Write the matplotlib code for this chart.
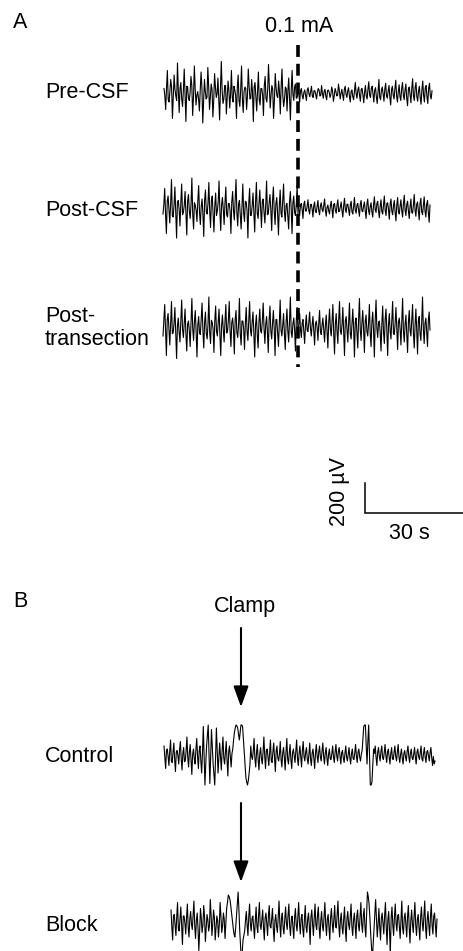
import numpy as np
import matplotlib
matplotlib.use("Agg")
import matplotlib.pyplot as plt

plt.rcParams['font.family'] = ['Liberation Sans', 'DejaVu Sans']

# ---------------- data (µV samples read from the recording) ----------------
# each trace segment = large excursions ("spikes") and the dense core between them
pre_csf_before = [
    30, -110, 150, -60, 90, -170, 120, -20, 200, -130, 70, -90, 160, -190, 40, -50, 110, -150, 180, -80,
    10, -120, 140, -200, 90, -40, 170, -110, 60, -160, 130, -30, 100, -180, 210, -70, 50, -140, 80, -100,
    150, -60, 20, -170, 120, -90, 180, -130, 40, -110, 160, -40, 90, -190, 70, -120, 140, -80, 30, -150,
    110, -60, 190, -100, 50, -170, 130, -20, 80, -140, 160, -90, 40, -120, 100, -180, 150, -50, 60, -30]
pre_csf_before_core = [
    -20, 35, -45, 10, 40, -30, 25, -50, 15, 30, -40, 20, -10, 45, -35, 5, 50, -25, 30, -15,
    -40, 20, 35, -45, 10, -30, 45, -20, 25, -50, 40, -5, -35, 30, 15, -40, 50, -25, 20, -10,
    -30, 45, -15, 35, -50, 25, -40, 10, 30, -20, 45, -35, 5, 40, -25, 15, -45, 30, -10, 50,
    -35, 20, 40, -15, 25, -50, 35, -30, 10, 45, -20, -40, 30, 15, -45, 25, -10, 40, -35, 20]
pre_csf_after = [
    40, -60, 30, -40, 20, -50, 35, -25, 45, -30, 15, -40, 30, -20, 50, -35, 25, -45, 20, -30,
    40, -55, 30, -20, 60, -40, 25, -50, 45, -30, 35, -60, 20, -45, 70, -35, 40, -55, 30, -65,
    50, -40, 75, -30, 45, -60, 35, -70, 90, -45, 40, -55, 65, -35, 50, -80, 45, -40, 85, -60,
    55, -50, 70, -45, 60, -85, 40, -65, 95, -50, 70, -55, 45, -75, 80, -60, 50, -70, 65, -40]
pre_csf_after_core = [
    -10, 15, -20, 5, -15, 20, -5, 10, -20, 15, -10, 5, 20, -15, -5, 10, -20, 15, 5, -10,
    15, -20, 10, -15, 20, -5, -15, 25, -10, 15, -20, 10, -25, 15, -5, 20, -15, 25, -10, 5,
    -20, 25, -15, 30, -10, 20, -25, 15, -30, 20, -10, 25, -20, 15, -30, 25, -15, 30, -20, 10,
    -25, 30, -15, 20, -35, 25, -10, 30, -20, 35, -25, 15, -30, 20, -15, 35, -25, 30, -20, 15]

post_csf_before = [
    -40, 130, -170, 80, -100, 190, -60, 140, -200, 50, -120, 160, -30, 110, -180, 90, -70, 200, -140, 20,
    -90, 150, -110, 60, -190, 120, -40, 170, -130, 80, -160, 100, -20, 180, -150, 70, -110, 140, -60, 30,
    -170, 110, -80, 190, -120, 50, -140, 160, -90, 40, -200, 130, -50, 100, -160, 170, -70, 120, -130, 60,
    -100, 180, -40, 90, -150, 140, -110, 70, -180, 120, -60, 160, -90, 30, -140, 110, -170, 80, -50, 150]
post_csf_before_core = [
    25, -40, 45, -15, 30, -50, 20, -35, 40, -10, 35, -45, 15, -30, 50, -20, 25, -40, 35, -15,
    45, -30, 10, -40, 50, -25, 30, -20, 45, -35, 15, -50, 40, -25, 20, -10, 35, -45, 30, -20,
    40, -15, 50, -30, 25, -40, 10, -35, 45, -20, 30, -50, 15, -25, 40, -35, 20, -10, 45, -30,
    25, -45, 35, -15, 50, -20, 30, -40, 15, -35, 45, -25, 20, -50, 40, -10, 35, -30, 25, -40]
post_csf_after = [
    60, -50, 30, -70, 45, -20, 55, -40, 25, -60, 40, -30, 50, -45, 35, -25, 60, -55, 20, -40,
    45, -65, 30, -35, 55, -20, 40, -60, 65, -30, 25, -50, 45, -40, 70, -35, 30, -55, 50, -25,
    40, -70, 60, -45, 35, -60, 75, -30, 45, -65, 55, -40, 80, -50, 35, -75, 60, -45, 50, -85,
    70, -40, 55, -60, 85, -50, 45, -70, 60, -35, 90, -55, 40, -80, 65, -45, 75, -60, 50, -95]
post_csf_after_core = [
    -15, 20, -10, 25, -20, 10, -15, 20, -5, 15, -25, 10, -20, 15, -10, 20, -15, 5, -20, 15,
    -10, 25, -15, 20, -25, 10, -20, 15, -10, 25, -15, 20, -25, 10, -15, 20, -10, 25, -20, 15,
    -20, 25, -15, 10, -25, 20, -10, 30, -20, 15, -25, 20, -15, 30, -10, 25, -20, 15, -30, 20,
    -25, 15, -20, 30, -15, 25, -20, 10, -30, 20, -15, 25, -20, 30, -25, 15, -20, 25, -30, 20]

post_trans_before = [
    -60, 150, -190, 90, -120, 170, -40, 130, -210, 60, -100, 180, -70, 120, -160, 40, -130, 190, -90, 110,
    -200, 70, -50, 160, -140, 100, -80, 200, -110, 30, -170, 140, -60, 120, -190, 80, -100, 150, -30, 170,
    -130, 60, -180, 110, -70, 190, -120, 40, -150, 130, -90, 170, -60, 100, -200, 80, -140, 120, -40, 160,
    -110, 70, -170, 140, -80, 110, -190, 50, -130, 180, -60, 90, -150, 120, -100, 200, -70, 60, -160, 130]
post_trans_before_core = [
    40, -30, 50, -20, 35, -45, 25, -40, 10, -35, 45, -15, 30, -50, 20, -25, 40, -10, 35, -30,
    15, -40, 50, -25, 30, -45, 20, -35, 45, -15, 40, -30, 25, -50, 10, -20, 35, -40, 45, -25,
    30, -15, 50, -35, 20, -45, 40, -10, 25, -30, 45, -20, 35, -40, 15, -50, 30, -25, 40, -10,
    20, -35, 45, -30, 25, -15, 50, -40, 35, -20, 10, -45, 30, -25, 40, -35, 20, -15, 45, -30]
post_trans_after = [
    -40, 90, -70, 50, -110, 80, -30, 100, -60, 70, -120, 40, -90, 110, -50, 60, -100, 80, -140, 120,
    -60, 150, -180, 90, -110, 170, -50, 130, -190, 70, -100, 160, -80, 120, -200, 60, -140, 190, -90, 110,
    -170, 80, -60, 150, -130, 100, -200, 180, -70, 40, -160, 140, -110, 120, -190, 90, -80, 170, -50, 130,
    -150, 60, -120, 190, -100, 80, -170, 110, -60, 150, -140, 120, -180, 70, -90, 200, -110, 60, -130, 100]
post_trans_after_core = [
    20, -15, 25, -30, 10, -20, 30, -10, 15, -25, 20, -5, 25, -30, 15, -20, 10, -25, 30, -15,
    35, -40, 20, -30, 45, -25, 15, -35, 40, -20, 30, -45, 25, -10, 35, -40, 50, -20, 30, -15,
    40, -30, 25, -45, 35, -20, 45, -10, 30, -40, 20, -35, 50, -25, 15, -30, 40, -45, 25, -20,
    35, -15, 45, -30, 20, -40, 30, -25, 50, -35, 10, -20, 40, -45, 30, -15, 25, -35, 45, -20]

control = [
    60, -90, 40, -70, 100, -50, 80, -110, 30, -60, 90, -100, 50, -40, 120, -80, 70, -130, 40, -60, 110, -90, 60, -120,
    190, -200, 60, 200, -190, 170, -60, -200, 180, -120,
    80, -100, 120, -60, 90, -140, 60, -80,
    40, 150, 200, 180, 100, 200, 190, 20, -150, -200, -120,
    60, -30, 110, -80, 70, -100, 50, -60, 120, -90, 40, -70, 100, -50, 80, -110, 60, -40, 90, -80,
    50, -100, 110, -60, 70, -90, 40, -50, 100, -70, 60, -80, 90, -40, 50, -60, 80, -70, 40, -90,
    70, -50, 60, -40, 80, -60, 50, -70, 40, -30, 60, -50, 70, -40, 50, -60, 30, -50, 60, -40,
    50, -60, 40, -30, 70, -50, 40, -40,
    30, 190, 200, -60, 200, -200, -180, 40,
    60, -70, 50, -40, 60, -30, 70, -50, 40, -60, 50, -30, 60, -40, 70, -50, 40, -60, 30, -40,
    60, -50, 40, -30, 50, -60, 40, -30, 60, -40, 50, -50, 30, -40, 50, -70, -60]
control_core = [
    -20, 30, -10, 25, -40, 15, -30, 20, -5, 35, -25, 10, -45, 30, -15, 20, -35, 5, -25, 40, -10, 30, -40, 15,
    0, -60, 130, 10, -10, 60, -130, -10, 30, -20,
    -10, 30, -20, 15, -35, 20, -15, 10,
    100, 180, 195, 140, 150, 200, 110, -70, -180, -170, -60,
    -10, 25, -20, 15, -30, 10, -25, 20, -5, 30, -15, 10, -35, 20, -10, 25, -20, 5, -30, 15,
    -15, 20, -25, 10, -30, 15, -5, 25, -20, 10, -15, 30, -10, 20, -25, 5, -30, 15, -20, 10,
    -5, 20, -15, 25, -10, 15, -20, 5, -25, 10, -15, 20, -5, 25, -10, 15, -20, 10, -15, 5,
    -20, 10, -25, 15, -10, 20, -15, 5,
    110, 200, 60, 90, 0, -200, -70, 10,
    -15, 20, -10, 25, -20, 15, -5, 20, -15, 10, -25, 15, -10, 20, -15, 5, -20, 10, -15, 25,
    -10, 15, -20, 5, -15, 20, -10, 15, -25, 10, -15, 20, -5, 15, -20, -10, -40]

block = [
    80, -120, 50, -90, 130, -60, 100, -150, 40, -80, 120, -100, 70, -50, 140, -110, 60, -190, 90, -70,
    110, -130, 50, -60, 150, -90, 80, -120, 40, -100, 130, -70, 60, -110, 90,
    180, 150, 60, -40, -100, 40, 200, -60, -250, -120, -60,
    70, -90, 120, -60, 40, -110, 100, -70, 130, -50, 80, -120, 60, -90, 110, -40, 90, -130, 50, -70,
    140, -100, 60, -80, 100, -50, 120, -90, 40, -110, 90, -60, 130, -80, 50, -100, 110, -70, 60, -150,
    80, -90, 120, -50, 100, -110, 70, -60, 130, -90, 50, -120, 90, -70, 110, -40, 140, -100, 60, -80,
    100, -130, 70, -50, 120, -90, 60, -110, 80, -60, 130, -70, 90, -100,
    200, 120, -80, -250, -60, 150, -100,
    90, -120, 60, -80, 130, -150, 70, -200, 100, -90, 120, -60, 50, -110, 140, -80, 60, -100, 110, -140,
    80, -70, 130, -90, 50, -120, 100, -60, 140, -110, 70, -90, 120, -80, 60, -100]
block_core = [
    -30, 40, -20, 35, -45, 15, -25, 40, -10, 30, -35, 20, -15, 45, -30, 10, -40, -60, 25, -20,
    35, -40, 15, -25, 45, -15, 30, -35, 10, -20, 40, -30, 20, -15, 130,
    170, 110, 10, -80, -40, 130, 80, -170, -200, -90, 10,
    -20, 35, -15, 25, -40, 10, -30, 45, -20, 15, -35, 25, -10, 40, -25, 20, -45, 10, -30, 35,
    -15, 25, -40, 20, -10, 45, -30, 15, -35, 30, -20, 40, -10, 25, -45, 15, -30, 20, -25, 35,
    -15, 30, -20, 45, -35, 10, -25, 40, -15, 20, -40, 30, -10, 25, -30, 45, -20, 15, -35, 20,
    -45, 25, -15, 35, -30, 10, -20, 40, -25, 30, -15, 45, -35, 60,
    170, 30, -170, -150, 50, 20, -20,
    -30, 25, -15, 40, -35, 20, -60, 30, -20, 35, -10, 45, -25, 15, -40, 30, -20, 35, -30, 10,
    -15, 40, -25, 20, -35, 30, -10, 45, -30, 15, -20, 35, -25, 40, -15, 20]

panel_a_labels = ["Pre-CSF", "Post-CSF", "Post-\ntransection"]
panel_b_labels = ["Control", "Block"]
stim_label = "0.1 mA"
clamp_label = "Clamp"
scale_time_s = 30
scale_volt_uv = 200

# ---------------- layout ----------------
W, H = 463, 951
PX_PER_S = 98 / 30.0
PX_PER_UV = 30 / 200.0
X0 = 164  # pixel of t = 0

def tx(px):
    return (px - X0) / PX_PER_S

def ty(py):
    return -py / PX_PER_UV

fig = plt.figure(figsize=(W / 100, H / 100), dpi=100)
ax = fig.add_axes([0, 0, 1, 1])
ax.set_xlim(tx(0), tx(W))
ax.set_ylim(ty(H), ty(0))
ax.axis('off')

FS = 15.5
LW = 0.8

def merge(spikes, core):
    out = np.empty(len(spikes) + len(core))
    out[0::2] = spikes
    out[1::2] = core
    return out

def draw_trace(segments, y_center):
    for (t0, t1, vals) in segments:
        t = np.linspace(t0, t1, len(vals))
        ax.plot(t, ty(y_center) + np.asarray(vals, float), color='k', lw=LW)

t_stim = tx(298)
# Panel A
draw_trace([(tx(164), t_stim, merge(pre_csf_before, pre_csf_before_core)),
            (t_stim, tx(432), merge(pre_csf_after, pre_csf_after_core))], 93)
draw_trace([(tx(163), t_stim, merge(post_csf_before, post_csf_before_core)),
            (t_stim, tx(430), merge(post_csf_after, post_csf_after_core))], 208)
draw_trace([(tx(163), t_stim, merge(post_trans_before, post_trans_before_core)),
            (t_stim, tx(430), merge(post_trans_after, post_trans_after_core))], 327)

ax.plot([t_stim, t_stim], [ty(45), ty(367)], color='k', lw=2.6, dashes=(3.3, 1.9),
        solid_capstyle='butt', dash_capstyle='butt')

ax.text(tx(13), ty(22), "A", fontsize=FS, ha='left', va='center')
ax.text(tx(299), ty(27), stim_label, fontsize=FS, ha='center', va='center')
ax.text(tx(45), ty(93), panel_a_labels[0], fontsize=FS, ha='left', va='center')
ax.text(tx(45), ty(211), panel_a_labels[1], fontsize=FS, ha='left', va='center')
ax.text(tx(45), ty(328), panel_a_labels[2], fontsize=FS, ha='left', va='center', linespacing=1.18)

# scale bar
sb_x = tx(365)
sb_y = ty(513)
ax.plot([sb_x, sb_x, sb_x + scale_time_s], [sb_y + scale_volt_uv, sb_y, sb_y], color='k', lw=1.1,
        solid_joinstyle='miter')
ax.text(tx(339), ty(492), f"{scale_volt_uv} µV", fontsize=FS, rotation=90, ha='center', va='center')
ax.text(sb_x + scale_time_s / 2 - 1.5, ty(533), f"{scale_time_s} s", fontsize=FS, ha='center', va='center')

# Panel B
ax.text(tx(13), ty(601), "B", fontsize=FS, ha='left', va='center')
ax.text(tx(245), ty(606), clamp_label, fontsize=FS, ha='center', va='center')
ax.text(tx(45), ty(756), panel_b_labels[0], fontsize=FS, ha='left', va='center')
ax.text(tx(45), ty(925), panel_b_labels[1], fontsize=FS, ha='left', va='center')

draw_trace([(tx(164), tx(435), merge(control, control_core))], 755)
draw_trace([(tx(171), tx(437), merge(block, block_core))], 922)

t_arrow = tx(241)
for (y_start, y_tip) in [(628, 707), (803, 882)]:
    ax.annotate('', xy=(t_arrow, ty(y_tip)), xytext=(t_arrow, ty(y_start)),
                arrowprops=dict(arrowstyle='-|>,head_width=0.38,head_length=1.05', lw=1.5,
                                color='k', mutation_scale=12, shrinkA=0, shrinkB=0))

fig.savefig("out.png", dpi=100)
